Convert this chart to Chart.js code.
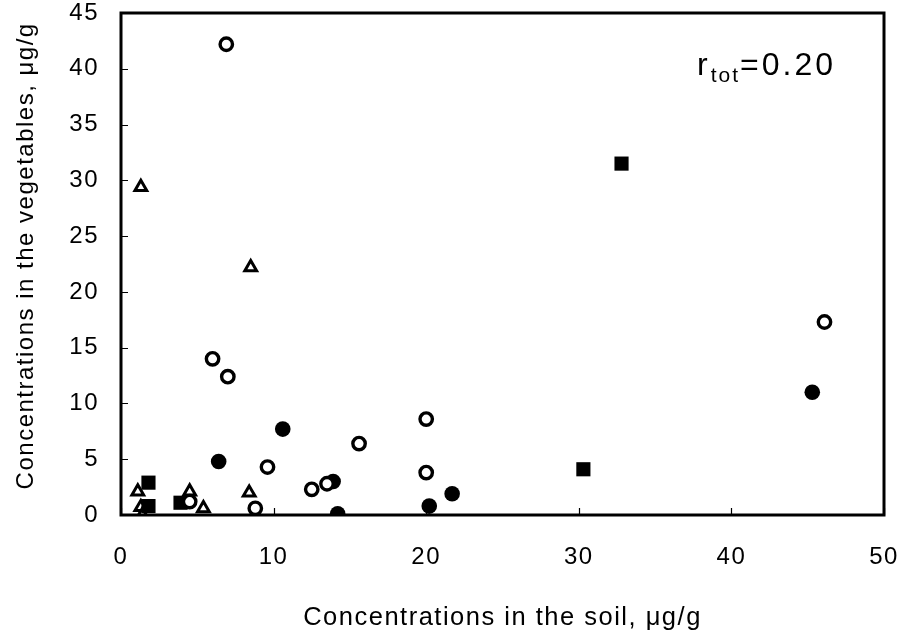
<!DOCTYPE html>
<html>
<head>
<meta charset="utf-8">
<script src="https://cdn.jsdelivr.net/npm/chart.js@4.4.1/dist/chart.umd.min.js"></script>
<style>
  html, body { margin: 0; padding: 0; background: #fff; }
  #wrap { width: 905px; height: 641px; }
</style>
</head>
<body>
<div id="wrap"><canvas id="chart" width="905" height="641"></canvas></div>
<script>
// values (soil conc. x, vegetable conc. y, both ug/g)
const openX = [6.9, 6.0, 7.0, 20.0, 15.6, 9.6, 20.0, 12.5, 13.5, 4.5, 8.8, 46.1];
const openY = [42.2, 14.0, 12.4, 8.6, 6.4, 4.3, 3.8, 2.3, 2.8, 1.2, 0.6, 17.3];

const filledX = [6.4, 10.6, 13.9, 14.2, 20.2, 21.7, 45.3];
const filledY = [4.8, 7.7, 3.0, 0.1, 0.8, 1.9, 11.0];

const squareX = [1.8, 1.8, 3.9, 32.8, 30.3];
const squareY = [2.9, 0.8, 1.1, 31.5, 4.1];

const triX = [1.3, 8.5, 1.1, 1.3, 1.4, 4.5, 5.4, 8.4];
const triY = [29.4, 22.2, 2.1, 0.7, 0.0, 2.1, 0.6, 2.0];

const xTicks = [0, 10, 20, 30, 40, 50];
const yTicks = [0, 5, 10, 15, 20, 25, 30, 35, 40, 45];

const xTitle = 'Concentrations in the soil, \u03bcg/g';
const yTitle = '  Concentrations in the vegetables, \u03bcg/g';
const rValue = '0.20';

const FONT = "'Liberation Sans', Arial, sans-serif";

function pts(xs, ys) {
  return xs.map((x, i) => ({ x: x, y: ys[i] }));
}

// frame, inner tick marks, r label
const framePlugin = {
  id: 'frame',
  beforeDraw(chart) {
    chart.ctx.letterSpacing = '1.5px';
  },
  afterDraw(chart) {
    const { ctx, chartArea: a, scales } = chart;
    ctx.save();
    ctx.strokeStyle = '#000';
    ctx.lineWidth = 1.2;
    ctx.beginPath();
    yTicks.forEach(v => {
      const y = Math.round(scales.y.getPixelForValue(v)) + 0.5;
      ctx.moveTo(a.left, y);
      ctx.lineTo(a.left + 7, y);
    });
    xTicks.forEach(v => {
      const x = Math.round(scales.x.getPixelForValue(v)) + 0.5;
      ctx.moveTo(x, a.bottom);
      ctx.lineTo(x, a.bottom - 7);
    });
    ctx.stroke();
    ctx.lineWidth = 3;
    ctx.strokeRect(a.left, a.top, a.right - a.left, a.bottom - a.top);

    // r_tot = 0.20
    ctx.fillStyle = '#000';
    ctx.textBaseline = 'alphabetic';
    ctx.textAlign = 'left';
    let x = 697, y = 75;
    ctx.letterSpacing = '3px';
    ctx.font = '32px ' + FONT;
    ctx.fillText('r', x, y);
    x += ctx.measureText('r').width;
    ctx.letterSpacing = '2px';
    ctx.font = '21px ' + FONT;
    ctx.fillText('tot', x, y + 7);
    x += ctx.measureText('tot').width;
    ctx.letterSpacing = '3px';
    ctx.font = '32px ' + FONT;
    ctx.fillText('=' + rValue, x, y);
    ctx.restore();
  }
};

new Chart(document.getElementById('chart'), {
  type: 'scatter',
  data: {
    datasets: [
      {
        label: 'open',
        data: pts(openX, openY),
        pointStyle: 'circle',
        pointRadius: 6.2,
        pointBorderWidth: 3.4,
        pointBackgroundColor: '#fff',
        pointBorderColor: '#000'
      },
      {
        label: 'filled',
        data: pts(filledX, filledY),
        pointStyle: 'circle',
        pointRadius: 7.8,
        pointBorderWidth: 0,
        pointBackgroundColor: '#000',
        pointBorderColor: '#000'
      },
      {
        label: 'square',
        data: pts(squareX, squareY),
        pointStyle: 'rect',
        pointRadius: 10,
        pointBorderWidth: 0,
        pointBackgroundColor: '#000',
        pointBorderColor: '#000'
      },
      {
        label: 'triangle',
        data: pts(triX, triY),
        pointStyle: 'triangle',
        pointRadius: 6.8,
        pointBorderWidth: 3,
        pointBackgroundColor: '#fff',
        pointBorderColor: '#000'
      }
    ]
  },
  options: {
    responsive: false,
    animation: false,
    layout: { padding: { top: 13, right: 21, left: 0, bottom: 0 } },
    plugins: {
      legend: { display: false },
      tooltip: { enabled: false }
    },
    scales: {
      x: {
        type: 'linear',
        min: 0,
        max: 50,
        afterBuildTicks: s => { s.ticks = xTicks.map(v => ({ value: v })); },
        afterFit: s => { s.height = 126; s.paddingLeft = 0; s.paddingRight = 0; },
        grid: { display: false, drawTicks: false },
        border: { display: false },
        ticks: {
          color: '#000',
          padding: 28,
          maxRotation: 0,
          font: { family: FONT, size: 24 }
        },
        title: {
          display: true,
          text: xTitle,
          color: '#000',
          padding: { top: 0, bottom: 8 },
          font: { family: FONT, size: 25.5 }
        }
      },
      y: {
        type: 'linear',
        min: 0,
        max: 45,
        afterBuildTicks: s => { s.ticks = yTicks.map(v => ({ value: v })); },
        afterFit: s => { s.width = 121; s.paddingTop = 0; s.paddingBottom = 0; },
        grid: { display: false, drawTicks: false },
        border: { display: false },
        ticks: {
          color: '#000',
          padding: 22,
          font: { family: FONT, size: 24 }
        },
        title: {
          display: true,
          text: yTitle,
          color: '#000',
          padding: { top: 12, bottom: 0 },
          font: { family: FONT, size: 24 }
        }
      }
    }
  },
  plugins: [framePlugin]
});
</script>
</body>
</html>
